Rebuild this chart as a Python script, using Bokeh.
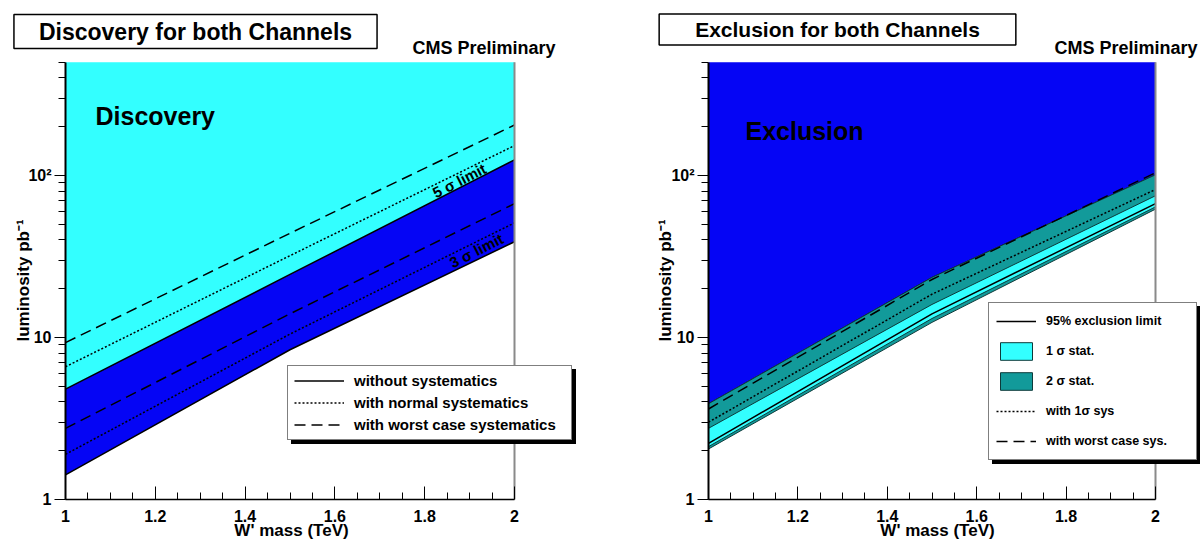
import math
from bokeh.plotting import figure
from bokeh.layouts import row
from bokeh.models import (FixedTicker, CustomJSTickFormatter, Label, Legend,
                          LegendItem)
from bokeh.embed import file_html
from bokeh.resources import INLINE

FONT = "Liberation Sans"
CYAN = "#33ffff"
BLUE = "#0505f5"
TEAL = "#129a9a"

# ---------------- data ----------------
MASS = [1.0, 1.5, 2.0]          # W' mass (TeV)
Y_MIN, Y_TOP = 1, 500           # luminosity axis extent (pb^-1)

# Discovery (luminosity pb^-1 needed)
DISC_5S_NOSYS = [4.8, 24.5, 125]
DISC_5S_NORMAL = [6.6, 32, 153]
DISC_5S_WORST = [9.3, 44, 205]
DISC_3S_NOSYS = [1.42, 8.4, 39]
DISC_3S_NORMAL = [1.9, 10.5, 51]
DISC_3S_WORST = [2.75, 14, 67]

# Exclusion
EXCL_95 = [2.22, 14.0, 67]
EXCL_1S_LO = [2.12, 13.1, 64]
EXCL_1S_HI = [2.75, 16.0, 75]
EXCL_2S_LO = [2.05, 12.4, 62]
EXCL_2S_HI = [3.9, 23.5, 101]
EXCL_1SYS = [3.0, 18.5, 82]
EXCL_WORST = [3.62, 22.8, 104]

X_TICKS = [1.0, 1.2, 1.4, 1.6, 1.8, 2.0]
X_MINOR = [1.05, 1.1, 1.15, 1.25, 1.3, 1.35, 1.45, 1.5, 1.55, 1.65, 1.7,
           1.75, 1.85, 1.9, 1.95]
Y_TICKS = [1, 10, 100]
Y_TICK_LABELS = ["1", "10", "10\u00b2"]
Y_MINOR = [2, 3, 4, 5, 6, 7, 8, 9, 20, 30, 40, 50, 60, 70, 80, 90,
           200, 300, 400, 500]

DISC_LEGEND = ["without systematics", "with normal systematics",
               "with worst case systematics"]
EXCL_LEGEND = ["95% exclusion limit", "1 \u03c3 stat.", "2 \u03c3 stat.",
               "with 1\u03c3 sys", "with worst case sys."]

DOT = "2 2"
DASH = "11 6"

# ---------------- layout (pixels) ----------------
FIG_W, FIG_H = 600, 542
AXIS_Y_PX = 43                  # distance of the x axis from the bottom
PX_PER_DECADE = 162.0
Y_START = 10 ** (-AXIS_Y_PX / PX_PER_DECADE)
Y_END = 10 ** ((FIG_H - AXIS_Y_PX) / PX_PER_DECADE)


def make_fig(axis_x_px, px_per_unit, xlabel_pos, ylabel_pos):
    x_start = 1 - axis_x_px / px_per_unit
    x_end = 1 + (FIG_W - axis_x_px) / px_per_unit
    p = figure(width=FIG_W, height=FIG_H, x_range=(x_start, x_end),
               y_range=(Y_START, Y_END), y_axis_type="log",
               output_backend="svg", toolbar_location=None, title=None,
               min_border=0)
    p.grid.visible = False
    p.outline_line_color = None
    p.background_fill_color = "white"
    p.border_fill_color = "white"

    xa = p.xaxis[0]
    xa.fixed_location = Y_MIN
    xa.bounds = (X_TICKS[0], X_TICKS[-1])
    xa.ticker = FixedTicker(ticks=X_TICKS, minor_ticks=X_MINOR)
    xa.formatter = CustomJSTickFormatter(code="return String(Math.round(tick*10)/10);")
    xa.major_label_text_font = FONT
    xa.major_label_text_font_style = "bold"
    xa.major_label_text_font_size = "16px"
    xa.major_label_text_color = "black"
    xa.major_tick_in = 13
    xa.major_tick_out = 0
    xa.minor_tick_in = 7
    xa.minor_tick_out = 0
    xa.major_label_standoff = 10
    xa.axis_line_width = 1.5

    ya = p.yaxis[0]
    ya.fixed_location = X_TICKS[0]
    ya.bounds = (Y_MIN, Y_TOP)
    ya.ticker = FixedTicker(ticks=Y_TICKS, minor_ticks=Y_MINOR)
    ya.major_label_overrides = dict(zip(Y_TICKS, Y_TICK_LABELS))
    ya.major_label_text_font = FONT
    ya.major_label_text_font_style = "bold"
    ya.major_label_text_font_size = "16px"
    ya.major_label_text_color = "black"
    ya.major_tick_in = 0
    ya.major_tick_out = 11
    ya.minor_tick_in = 0
    ya.minor_tick_out = 7
    ya.major_label_standoff = 3
    ya.axis_line_width = 2

    add_text(p, xlabel_pos[0], xlabel_pos[1], "W' mass (TeV)", "17px", align="center")
    add_text(p, ylabel_pos[0], ylabel_pos[1], "luminosity pb\u207b\u00b9", "17px",
             align="center", angle=math.pi / 2)
    return p


def add_text(p, x, y, text, size, align="left", angle=0.0, units="screen"):
    p.add_layout(Label(x=x, y=y, x_units=units, y_units=units, text=text,
                       text_font=FONT, text_font_style="bold",
                       text_font_size=size, text_align=align,
                       text_baseline="middle", angle=angle, text_color="black"))


def add_title_box(p, x, y, text, size, pad_x, pad_y):
    p.add_layout(Label(x=x, y=y, x_units="screen", y_units="screen", text=text,
                       text_font=FONT, text_font_style="bold",
                       text_font_size=size, text_align="center",
                       text_baseline="middle", text_color="black",
                       background_fill_color="white",
                       border_line_color="black", border_line_width=1.5,
                       padding=dict(left=pad_x, right=pad_x, top=pad_y, bottom=pad_y)))


def add_legend(p, items_spec, loc, **style):
    # drop shadow: same geometry, blank labels, drawn first
    shadow = Legend(items=[LegendItem(label=" ", renderers=[r]) for _, r in items_spec],
                    location=(loc[0] + 4, loc[1] - 4), background_fill_color="black",
                    background_fill_alpha=1.0, border_line_color="black",
                    label_text_color="black", **style)
    main = Legend(items=[LegendItem(label=t, renderers=[r]) for t, r in items_spec],
                  location=loc, background_fill_color="white",
                  background_fill_alpha=1.0, border_line_color="black",
                  border_line_width=1, label_text_color="black", **style)
    p.add_layout(shadow)
    p.add_layout(main)


def frame_edge(p):
    p.segment(x0=[X_TICKS[-1]], y0=[Y_MIN], x1=[X_TICKS[-1]], y1=[Y_TOP],
              line_color="#8a8a8a", line_width=2)


# ---------------- Discovery ----------------
p1 = make_fig(65, 449.0, (291, 12), (23, 262))
p1.varea(x=MASS, y1=DISC_5S_NOSYS, y2=[Y_TOP] * len(MASS), fill_color=CYAN)
p1.varea(x=MASS, y1=DISC_3S_NOSYS, y2=DISC_5S_NOSYS, fill_color=BLUE)
l_solid = p1.line(MASS, DISC_5S_NOSYS, line_color="black", line_width=1.5)
p1.line(MASS, DISC_3S_NOSYS, line_color="black", line_width=1.5)
l_dot = p1.line(MASS, DISC_5S_NORMAL, line_color="black", line_width=1.5, line_dash=DOT)
p1.line(MASS, DISC_3S_NORMAL, line_color="black", line_width=1.5, line_dash=DOT)
l_dash = p1.line(MASS, DISC_5S_WORST, line_color="black", line_width=1.5, line_dash=DASH)
p1.line(MASS, DISC_3S_WORST, line_color="black", line_width=1.5, line_dash=DASH)
frame_edge(p1)

add_text(p1, 1.877, 93, "5 \u03c3 limit", "15px", align="center", angle=0.47, units="data")
add_text(p1, 1.915, 34.4, "3 \u03c3 limit", "15px", align="center", angle=0.47, units="data")
add_text(p1, 95, 427, "Discovery", "25px")
add_text(p1, 555, 495, "CMS Preliminary", "18px", align="right")
add_title_box(p1, 195, 511, "Discovery for both Channels", "23px", 25, 4)

add_legend(p1, list(zip(DISC_LEGEND, [l_solid, l_dot, l_dash])), (287, 102),
           glyph_width=50, glyph_height=17, label_standoff=10, spacing=5,
           padding=6, margin=0, label_width=211, label_text_font=FONT,
           label_text_font_style="bold", label_text_font_size="15px")

# ---------------- Exclusion ----------------
p2 = make_fig(108, 447.0, (337, 12), (65, 262))
p2.varea(x=MASS, y1=EXCL_2S_HI, y2=[Y_TOP] * len(MASS), fill_color=BLUE)
p2.line(MASS, EXCL_2S_HI, line_color="#06064a", line_width=1)
band2 = p2.patch(MASS + MASS[::-1], EXCL_2S_LO + EXCL_2S_HI[::-1],
                 fill_color=TEAL, line_color="#0d3a3a", line_width=1)
band1 = p2.patch(MASS + MASS[::-1], EXCL_1S_LO + EXCL_1S_HI[::-1],
                 fill_color=CYAN, line_color="#0d3a3a", line_width=1)
e_solid = p2.line(MASS, EXCL_95, line_color="black", line_width=1.5)
e_dot = p2.line(MASS, EXCL_1SYS, line_color="black", line_width=1.5, line_dash=DOT)
e_dash = p2.line(MASS, EXCL_WORST, line_color="black", line_width=1.5, line_dash=DASH)
frame_edge(p2)

add_text(p2, 145, 412, "Exclusion", "25px")
add_text(p2, 597, 495, "CMS Preliminary", "18px", align="right")
add_title_box(p2, 237, 513, "Exclusion for both Channels", "21px", 36, 4)

add_legend(p2, list(zip(EXCL_LEGEND, [e_solid, band1, band2, e_dot, e_dash])), (388, 82),
           glyph_width=40, glyph_height=22, label_standoff=10, spacing=8,
           padding=7, margin=0, label_width=143, label_text_font=FONT,
           label_text_font_style="bold", label_text_font_size="12.5px")

layout = row(p1, p2)
open("out.html", "w").write(file_html(layout, INLINE))
